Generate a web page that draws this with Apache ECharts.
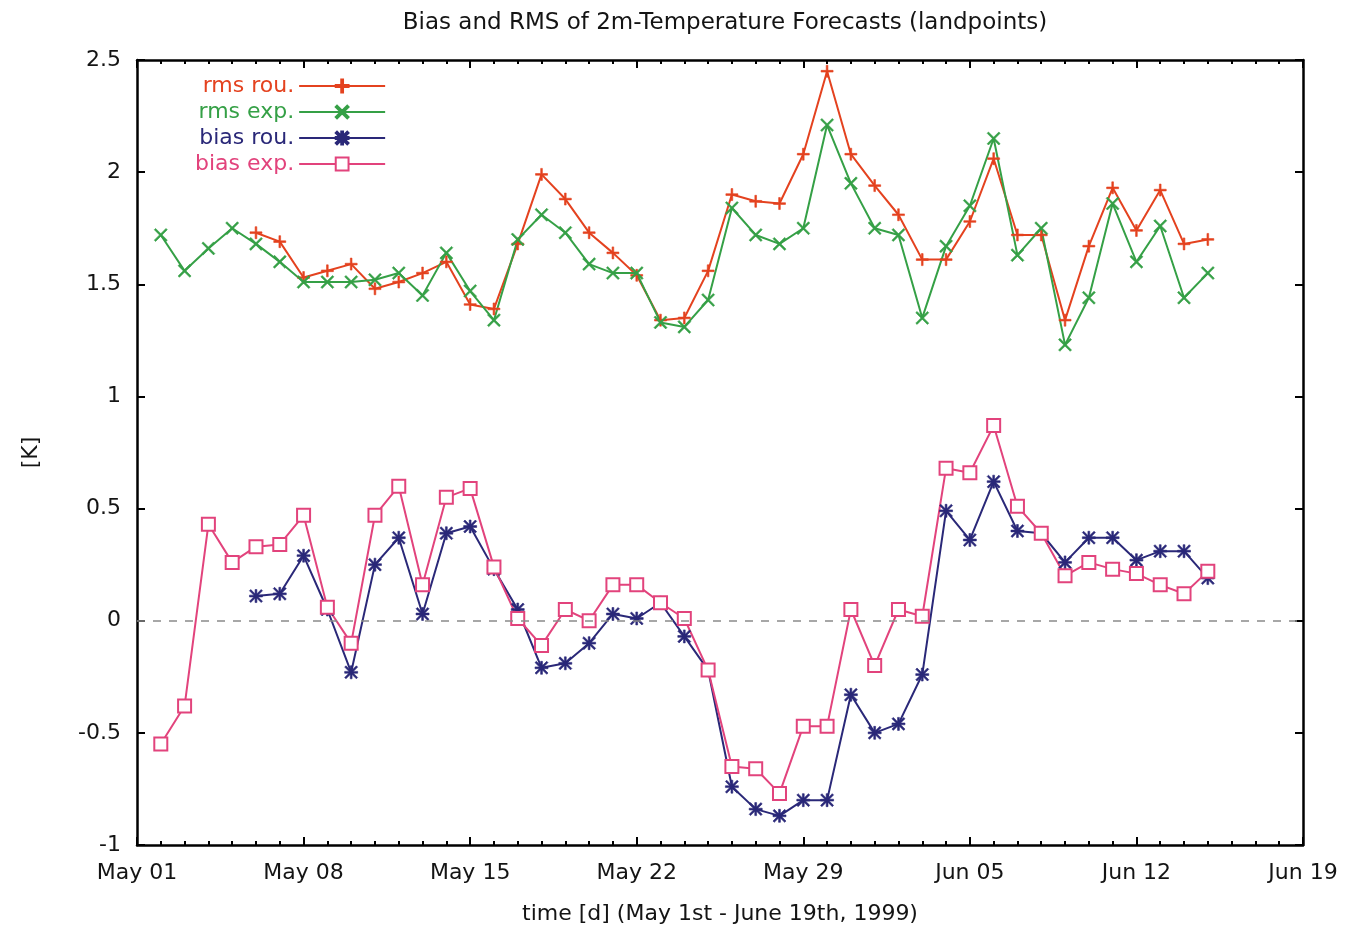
<!DOCTYPE html>
<html>
<head>
<meta charset="utf-8">
<title>Bias and RMS of 2m-Temperature Forecasts</title>
<script src="https://cdn.jsdelivr.net/npm/echarts@6/dist/echarts.min.js"></script>
<style>
  html, body { margin: 0; padding: 0; background: #ffffff; }
  #chart { width: 1351px; height: 930px; }
</style>
</head>
<body>
<div id="chart"></div>
<script>
// Day index 0 = May 01, 1999; one point per day.
const TICK_LABELS = ['May 01', 'May 08', 'May 15', 'May 22', 'May 29', 'Jun 05', 'Jun 12', 'Jun 19'];

// RMS, routine forecast (from May 06)
const RMS_ROU_START = 5;
const RMS_ROU = [1.73, 1.69, 1.53, 1.56, 1.59, 1.48, 1.51, 1.55, 1.60, 1.41,
                 1.39, 1.68, 1.99, 1.88, 1.73, 1.64, 1.54, 1.34, 1.35, 1.56,
                 1.90, 1.87, 1.86, 2.08, 2.45, 2.08, 1.94, 1.81, 1.61, 1.61,
                 1.78, 2.06, 1.72, 1.72, 1.34, 1.67, 1.93, 1.74, 1.92, 1.68,
                 1.70];

// RMS, experiment (from May 02)
const RMS_EXP_START = 1;
const RMS_EXP = [1.72, 1.56, 1.66, 1.75, 1.68, 1.60, 1.51, 1.51, 1.51, 1.52,
                 1.55, 1.45, 1.64, 1.47, 1.34, 1.70, 1.81, 1.73, 1.59, 1.55,
                 1.55, 1.33, 1.31, 1.43, 1.84, 1.72, 1.68, 1.75, 2.21, 1.95,
                 1.75, 1.72, 1.35, 1.67, 1.85, 2.15, 1.63, 1.75, 1.23, 1.44,
                 1.86, 1.60, 1.76, 1.44, 1.55];

// Bias, routine forecast (from May 06)
const BIAS_ROU_START = 5;
const BIAS_ROU = [0.11, 0.12, 0.29, 0.05, -0.23, 0.25, 0.37, 0.03, 0.39, 0.42,
                  0.23, 0.05, -0.21, -0.19, -0.10, 0.03, 0.01, 0.08, -0.07, -0.22,
                  -0.74, -0.84, -0.87, -0.80, -0.80, -0.33, -0.50, -0.46, -0.24, 0.49,
                  0.36, 0.62, 0.40, 0.39, 0.26, 0.37, 0.37, 0.27, 0.31, 0.31,
                  0.19];

// Bias, experiment (from May 02)
const BIAS_EXP_START = 1;
const BIAS_EXP = [-0.55, -0.38, 0.43, 0.26, 0.33, 0.34, 0.47, 0.06, -0.10, 0.47,
                  0.60, 0.16, 0.55, 0.59, 0.24, 0.01, -0.11, 0.05, 0.00, 0.16,
                  0.16, 0.08, 0.01, -0.22, -0.65, -0.66, -0.77, -0.47, -0.47, 0.05,
                  -0.20, 0.05, 0.02, 0.68, 0.66, 0.87, 0.51, 0.39, 0.20, 0.26,
                  0.23, 0.21, 0.16, 0.12, 0.22];

const COLORS = {
  rmsRou: '#e4421f',
  rmsExp: '#35a046',
  biasRou: '#2a2878',
  biasExp: '#e2437c'
};

// Marker shapes: plus, cross, asterisk (open square is built in)
const SYM_PLUS = 'path://M4.3,0H5.7V4.3H10V5.7H5.7V10H4.3V5.7H0V4.3H4.3Z';
const SYM_CROSS = 'path://M1,0L10,9L9,10L0,1Z M9,0L10,1L1,10L0,9Z';
const SYM_STAR = 'path://M4.3,0H5.7V10H4.3Z M0,4.3H10V5.7H0Z M1,0L10,9L9,10L0,1Z M9,0L10,1L1,10L0,9Z';

function pairs(start, values) {
  return values.map((v, i) => [start + i, v]);
}

const FONT = '"DejaVu Sans", "Liberation Sans", sans-serif';
const TEXT_COLOR = '#141414';

const chart = echarts.init(document.getElementById('chart'), null, { renderer: 'canvas' });

function lineSeries(name, data, color, symbol, size, extra) {
  return Object.assign({
    name: name,
    type: 'line',
    data: data,
    symbol: symbol,
    symbolSize: size,
    showSymbol: true,
    animation: false,
    lineStyle: { color: color, width: 2 },
    itemStyle: { color: color, borderColor: color, borderWidth: 0.6 },
    emphasis: { disabled: true }
  }, extra || {});
}

const frameLine = { show: true, onZero: false, lineStyle: { color: '#000', width: 2.5 } };
const majorTick = { show: true, inside: true, length: 8, lineStyle: { color: '#000', width: 2 } };
const minorTick = { show: true, splitNumber: 7, length: 4, lineStyle: { color: '#000', width: 2 } };

const option = {
  backgroundColor: '#ffffff',
  animation: false,
  title: {
    text: 'Bias and RMS of 2m-Temperature Forecasts (landpoints)',
    left: 720,
    top: 7,
    textAlign: 'center',
    textStyle: { fontFamily: FONT, fontSize: 23, fontWeight: 'normal', color: TEXT_COLOR }
  },
  legend: {
    orient: 'vertical',
    align: 'right',
    left: 190,
    top: 68,
    itemGap: 0,
    itemWidth: 86,
    itemHeight: 16,
    textStyle: { fontFamily: FONT, fontSize: 22, lineHeight: 26 },
    data: [
      { name: 'rms rou.', textStyle: { color: COLORS.rmsRou } },
      { name: 'rms exp.', textStyle: { color: COLORS.rmsExp } },
      { name: 'bias rou.', textStyle: { color: COLORS.biasRou } },
      { name: 'bias exp.', textStyle: { color: COLORS.biasExp } }
    ]
  },
  grid: { left: 137, right: 48, top: 60, bottom: 85 },
  xAxis: [
    {
      type: 'value',
      position: 'bottom',
      min: 0, max: 49, interval: 7,
      name: 'time [d] (May 1st - June 19th, 1999)',
      nameLocation: 'middle',
      nameGap: 58,
      nameTextStyle: { fontFamily: FONT, fontSize: 22, color: TEXT_COLOR },
      axisLine: frameLine,
      axisTick: majorTick,
      minorTick: minorTick,
      splitLine: { show: false },
      axisLabel: {
        fontFamily: FONT, fontSize: 22, color: TEXT_COLOR, margin: 17,
        formatter: (v) => TICK_LABELS[Math.round(v / 7)]
      }
    },
    {
      type: 'value',
      position: 'top',
      min: 0, max: 49, interval: 7,
      axisLine: frameLine,
      axisTick: majorTick,
      minorTick: minorTick,
      splitLine: { show: false },
      axisLabel: { show: false }
    }
  ],
  yAxis: [
    {
      type: 'value',
      position: 'left',
      min: -1, max: 2.5, interval: 0.5,
      name: '[K]',
      nameLocation: 'middle',
      nameGap: 95,
      nameTextStyle: { fontFamily: FONT, fontSize: 22, color: TEXT_COLOR },
      axisLine: frameLine,
      axisTick: majorTick,
      splitLine: { show: false },
      axisLabel: { fontFamily: FONT, fontSize: 22, color: TEXT_COLOR, margin: 16 }
    },
    {
      type: 'value',
      position: 'right',
      min: -1, max: 2.5, interval: 0.5,
      axisLine: frameLine,
      axisTick: majorTick,
      splitLine: { show: false },
      axisLabel: { show: false }
    }
  ],
  series: [
    lineSeries('rms rou.', pairs(RMS_ROU_START, RMS_ROU), COLORS.rmsRou, SYM_PLUS, 12, {
      markLine: {
        silent: true,
        symbol: 'none',
        label: { show: false },
        lineStyle: { color: '#8a8a8a', type: [8, 8], width: 1.5 },
        data: [{ yAxis: 0 }]
      }
    }),
    lineSeries('rms exp.', pairs(RMS_EXP_START, RMS_EXP), COLORS.rmsExp, SYM_CROSS, 13),
    lineSeries('bias rou.', pairs(BIAS_ROU_START, BIAS_ROU), COLORS.biasRou, SYM_STAR, 13),
    lineSeries('bias exp.', pairs(BIAS_EXP_START, BIAS_EXP), COLORS.biasExp, 'emptyRect', 13, {
      itemStyle: { color: COLORS.biasExp, borderColor: COLORS.biasExp, borderWidth: 1.6 }
    })
  ]
};

chart.setOption(option);
</script>
</body>
</html>
